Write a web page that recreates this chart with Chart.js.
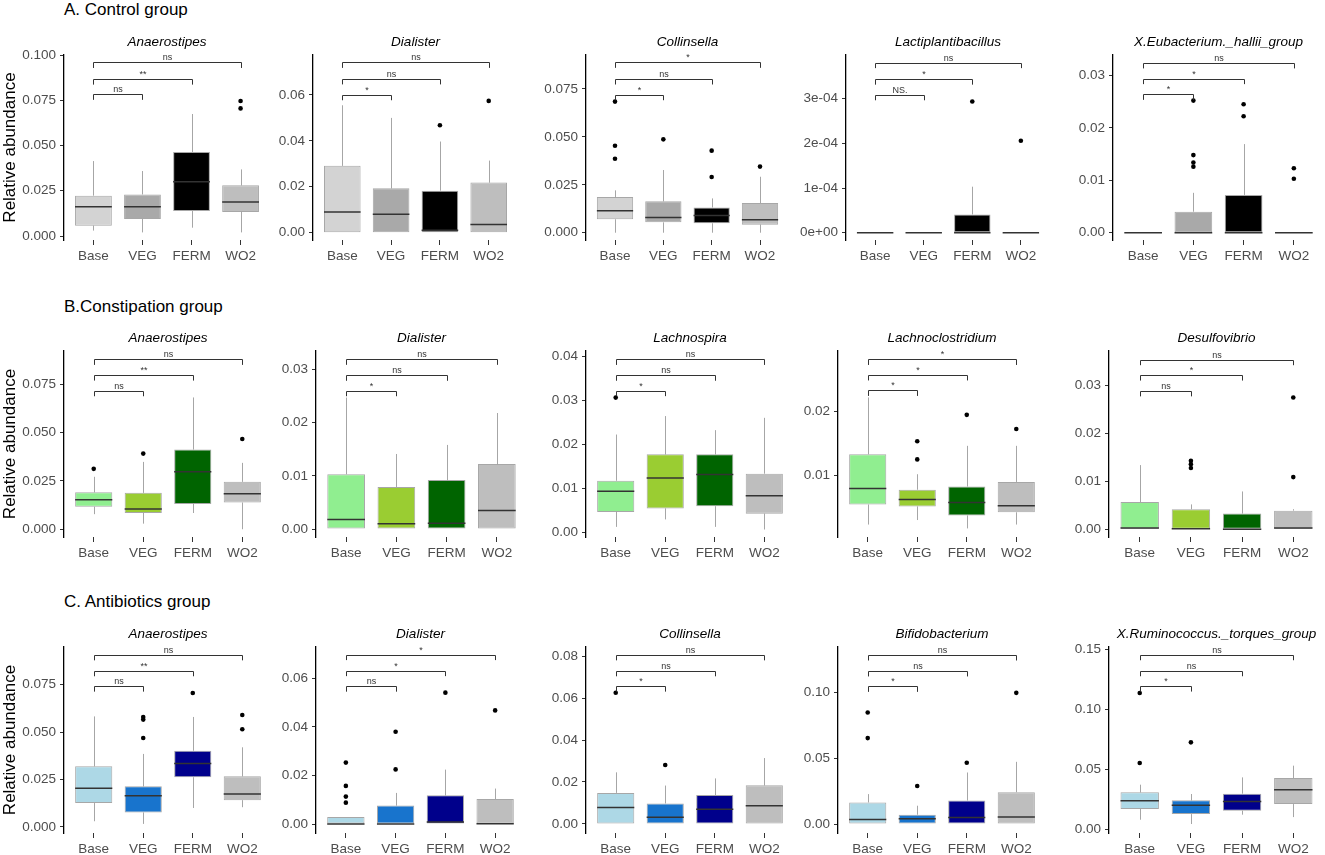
<!DOCTYPE html>
<html>
<head>
<meta charset="utf-8">
<script src="https://cdn.jsdelivr.net/npm/chart.js@4.4.1/dist/chart.umd.min.js"></script>
<style>
  body { margin: 0; background: #fff; width: 1325px; height: 855px; overflow: hidden; position: relative;
         font-family: "Liberation Sans", Arial, sans-serif; }
  canvas { position: absolute; }
  .rowtitle { position: absolute; font-size: 17px; line-height: 20px; color: #000; white-space: nowrap; }
</style>
</head>
<body>
<script>
// ---- data ----
const groups = ['Base', 'VEG', 'FERM', 'WO2'];

const genusA = ['Anaerostipes', 'Dialister', 'Collinsella', 'Lactiplantibacillus', 'X.Eubacterium._hallii_group'];
const genusB = ['Anaerostipes', 'Dialister', 'Lachnospira', 'Lachnoclostridium', 'Desulfovibrio'];
const genusC = ['Anaerostipes', 'Dialister', 'Collinsella', 'Bifidobacterium', 'X.Ruminococcus._torques_group'];

const colorsA = ['#d3d3d3', '#a9a9a9', '#000000', '#bebebe'];
const colorsB = ['#90ee90', '#9acd32', '#006400', '#bebebe'];
const colorsC = ['#add8e6', '#1874cd', '#00008b', '#bebebe'];

// one row per panel, values in order Base, VEG, FERM, WO2
const lowA  = [[0.003, 0.002, 0.0046, 0.002], [0, 0, 0, 0], [0, 0, 0, 0], [0, 0, 0, 0], [0, 0, 0, 0]];
const q1A   = [[0.0057, 0.0094, 0.0138, 0.0133], [0, 0, 0, 0], [0.007, 0.0054, 0.0049, 0.0042], [0, 0, 0, 0], [0, 0, 0, 0]];
const medA  = [[0.0162, 0.0162, 0.03, 0.0188], [0.009, 0.008, 0.001, 0.0036], [0.0115, 0.008, 0.009, 0.0068], [0, 0, 0, 0], [0, 0, 0, 0]];
const q3A   = [[0.0223, 0.023, 0.0464, 0.028], [0.0291, 0.0193, 0.0183, 0.0218], [0.0186, 0.0164, 0.0132, 0.0155], [0, 0, 4.1e-5, 0], [0, 0.004, 0.0072, 0]];
const highA = [[0.0414, 0.0359, 0.0674, 0.0368], [0.0555, 0.05, 0.0397, 0.0314], [0.0221, 0.0327, 0.0179, 0.0292], [0, 0, 1.03e-4, 0], [0, 0.0076, 0.0169, 0]];
const outA  = [[[], [], [], [0.0746, 0.0705]],
               [[], [], [0.0468], [0.0574]],
               [[0.0684, 0.0454, 0.0386], [0.0487], [0.0428, 0.0291], [0.0345]],
               [[], [], [2.94e-4], [2.06e-4]],
               [[], [0.0252, 0.0148, 0.0134, 0.0126], [0.0245, 0.0222], [0.0123, 0.0103]]];

const lowB  = [[0.0078, 0.0029, 0.0084, 0], [0, 0, 0, 0], [0.0013, 0.003, 0.0013, 0.0007], [0.0024, 0.0031, 0.0018, 0.0024], [0, 0, 0, 0]];
const q1B   = [[0.0116, 0.0084, 0.0131, 0.0138], [0, 0, 0, 0], [0.0047, 0.0055, 0.006, 0.0043], [0.0055, 0.0052, 0.0038, 0.0043], [0, 0, 0, 0]];
const medB  = [[0.0153, 0.0105, 0.0297, 0.0184], [0.0018, 0.001, 0.0011, 0.0035], [0.0094, 0.0124, 0.0132, 0.0084], [0.008, 0.0063, 0.0058, 0.0053], [0.0003, 0.0001, 0, 0.0003]];
const q3B   = [[0.0191, 0.0188, 0.0412, 0.0245], [0.0103, 0.0079, 0.0092, 0.0122], [0.0118, 0.0178, 0.0178, 0.0134], [0.0133, 0.0078, 0.0083, 0.009], [0.0057, 0.0042, 0.0033, 0.0039]];
const highB = [[0.0271, 0.0348, 0.0681, 0.0343], [0.0247, 0.0141, 0.0158, 0.0218], [0.0223, 0.0265, 0.0233, 0.0261], [0.0221, 0.0102, 0.0146, 0.0146], [0.0134, 0.0052, 0.0079, 0.0042]];
const outB  = [[[0.0312], [0.0391], [], [0.0466]],
               [[], [], [], []],
               [[0.0307], [], [], []],
               [[], [0.0153, 0.0125], [0.0194], [0.0172]],
               [[], [0.0143, 0.0136, 0.0128], [], [0.0275, 0.0109]]];

const lowC  = [[0.003, 0.0016, 0.01, 0.0104], [0, 0, 0, 0], [0, 0, 0, 0], [0, 0, 0, 0], [0.0078, 0.0042, 0.012, 0.01]];
const q1C   = [[0.0126, 0.0076, 0.0262, 0.0141], [0, 0, 0, 0], [0, 0, 0, 0], [0, 0, 0, 0], [0.0167, 0.0125, 0.0153, 0.0209]];
const medC  = [[0.0204, 0.0165, 0.0334, 0.0174], [0, 0, 0.0008, 0.0001], [0.0079, 0.0032, 0.007, 0.0087], [0.0035, 0.004, 0.005, 0.0053], [0.0237, 0.0198, 0.0231, 0.0329]];
const q3C   = [[0.032, 0.0214, 0.0402, 0.0267], [0.0029, 0.0076, 0.0118, 0.0103], [0.0148, 0.0098, 0.0138, 0.0184], [0.0164, 0.0071, 0.0179, 0.0242], [0.0307, 0.024, 0.0296, 0.0427]];
const highC = [[0.0583, 0.0385, 0.058, 0.042], [0.0029, 0.0128, 0.0224, 0.0146], [0.0246, 0.0183, 0.0217, 0.0314], [0.0227, 0.0139, 0.0391, 0.0472], [0.0371, 0.0293, 0.0432, 0.053]];
const outC  = [[[], [0.058, 0.0566, 0.0469], [0.0706], [0.059, 0.0515]],
               [[0.0253, 0.0157, 0.0113, 0.0088], [0.038, 0.0225], [0.0541], [0.0468]],
               [[0.0625], [0.0281], [], []],
               [[0.0846, 0.0652], [0.0288], [0.0465], [0.0995]],
               [[0.1137, 0.0552], [0.0725], [], []]];

// y axis ranges, ticks and tick labels per panel
const rangeA = [[-0.0022, 0.1], [-0.0032, 0.0774], [-0.0038, 0.0927], [-1.64e-5, 3.98e-4], [-0.0014, 0.0339]];
const rangeB = [[-0.004, 0.0921], [-0.0015, 0.03345], [-0.001, 0.0413], [0.00047, 0.0293], [-0.0016, 0.0372]];
const rangeC = [[-0.0032, 0.0949], [-0.0037, 0.0729], [-0.0043, 0.0843], [-0.0068, 0.1343], [-0.0033, 0.1522]];

const ticksA = [[0, 0.025, 0.05, 0.075, 0.1], [0, 0.02, 0.04, 0.06], [0, 0.025, 0.05, 0.075], [0, 1e-4, 2e-4, 3e-4], [0, 0.01, 0.02, 0.03]];
const ticksB = [[0, 0.025, 0.05, 0.075], [0, 0.01, 0.02, 0.03], [0, 0.01, 0.02, 0.03, 0.04], [0.01, 0.02], [0, 0.01, 0.02, 0.03]];
const ticksC = [[0, 0.025, 0.05, 0.075], [0, 0.02, 0.04, 0.06], [0, 0.02, 0.04, 0.06, 0.08], [0, 0.05, 0.1], [0, 0.05, 0.1, 0.15]];

const tickLabA = [['0.000', '0.025', '0.050', '0.075', '0.100'], ['0.00', '0.02', '0.04', '0.06'], ['0.000', '0.025', '0.050', '0.075'], ['0e+00', '1e-04', '2e-04', '3e-04'], ['0.00', '0.01', '0.02', '0.03']];
const tickLabB = [['0.000', '0.025', '0.050', '0.075'], ['0.00', '0.01', '0.02', '0.03'], ['0.00', '0.01', '0.02', '0.03', '0.04'], ['0.01', '0.02'], ['0.00', '0.01', '0.02', '0.03']];
const tickLabC = [['0.000', '0.025', '0.050', '0.075'], ['0.00', '0.02', '0.04', '0.06'], ['0.00', '0.02', '0.04', '0.06', '0.08'], ['0.00', '0.05', '0.10'], ['0.00', '0.05', '0.10', '0.15']];

// significance brackets: Base-VEG, Base-FERM, Base-WO2
const brkA = [[0.0783, 0.0867, 0.0959], [0.0601, 0.067, 0.0742], [0.072, 0.0802, 0.0889], [3.09e-4, 3.44e-4, 3.81e-4], [0.0264, 0.0294, 0.0324]];
const brkB = [[0.0716, 0.0797, 0.0878], [0.026, 0.0289, 0.0319], [0.0323, 0.0358, 0.0394], [0.0232, 0.0256, 0.028], [0.0289, 0.0322, 0.0354]];
const brkC = [[0.0743, 0.0824, 0.0908], [0.0568, 0.0632, 0.0698], [0.0657, 0.073, 0.0806], [0.1045, 0.1162, 0.1283], [0.1196, 0.1324, 0.1458]];
const sigA = [['ns', '**', 'ns'], ['*', 'ns', 'ns'], ['*', 'ns', '*'], ['NS.', '*', 'ns'], ['*', '*', 'ns']];
const sigB = [['ns', '**', 'ns'], ['*', 'ns', 'ns'], ['*', 'ns', 'ns'], ['*', '*', '*'], ['ns', '*', 'ns']];
const sigC = [['ns', '**', 'ns'], ['ns', '*', '*'], ['*', 'ns', 'ns'], ['*', 'ns', 'ns'], ['*', 'ns', 'ns']];

// ---- layout ----
const FONT = '"Liberation Sans", Arial, sans-serif';
Chart.defaults.font.family = FONT;

const rows = [
  { title: 'A. Control group', genus: genusA, colors: colorsA, low: lowA, q1: q1A, med: medA, q3: q3A, high: highA, out: outA,
    range: rangeA, ticks: ticksA, tickLab: tickLabA, brk: brkA, sig: sigA },
  { title: 'B.Constipation group', genus: genusB, colors: colorsB, low: lowB, q1: q1B, med: medB, q3: q3B, high: highB, out: outB,
    range: rangeB, ticks: ticksB, tickLab: tickLabB, brk: brkB, sig: sigB },
  { title: 'C. Antibiotics group', genus: genusC, colors: colorsC, low: lowC, q1: q1C, med: medC, q3: q3C, high: highC, out: outC,
    range: rangeC, ticks: ticksC, tickLab: tickLabC, brk: brkC, sig: sigC }
];

const plotTop = [55, 351, 647];
const plotH = [185, 186, 186];
const titleY = [10, 307, 602];
const axisX = [[64, 313, 586, 846, 1113], [64, 316, 586, 838, 1109], [64, 316, 586, 838, 1109]];
const rightX = [[272, 520, 791, 1052, 1326], [274, 527, 796, 1048, 1326], [274, 527, 796, 1048, 1326]];

function makePanel(cv, r, pi, lw) {
  const low = r.low[pi], q1 = r.q1[pi], med = r.med[pi], q3 = r.q3[pi], high = r.high[pi];
  const yr = r.range[pi];
  const boxes = groups.map((g, i) => ({ x: i + 1, y: [q1[i], q3[i]] }));
  const pts = [];
  r.out[pi].forEach((arr, i) => arr.forEach(v => pts.push({ x: i + 1, y: v })));

  const boxParts = {
    id: 'boxParts',
    beforeDatasetsDraw(chart) {
      const { ctx, scales: { x, y } } = chart;
      ctx.save();
      ctx.strokeStyle = '#a6a6a6';
      ctx.lineWidth = 1;
      groups.forEach((g, i) => {
        const px = Math.round(x.getPixelForValue(i + 1)) + 0.5;
        ctx.beginPath();
        ctx.moveTo(px, y.getPixelForValue(high[i]));
        ctx.lineTo(px, y.getPixelForValue(q3[i]));
        ctx.moveTo(px, y.getPixelForValue(q1[i]));
        ctx.lineTo(px, y.getPixelForValue(low[i]));
        ctx.stroke();
      });
      ctx.restore();
    },
    afterDatasetDraw(chart, args) {
      if (args.index !== 0) return;
      const { ctx, scales: { y } } = chart;
      const meta = chart.getDatasetMeta(0);
      ctx.save();
      ctx.strokeStyle = '#333333';
      ctx.lineWidth = 1.5;
      meta.data.forEach((bar, i) => {
        const py = y.getPixelForValue(med[i]);
        ctx.beginPath();
        ctx.moveTo(bar.x - bar.width / 2, py);
        ctx.lineTo(bar.x + bar.width / 2, py);
        ctx.stroke();
      });
      ctx.restore();
    },
    afterDraw(chart) {
      const { ctx, chartArea, scales: { x, y } } = chart;
      ctx.save();
      // strip title
      ctx.fillStyle = '#000';
      ctx.font = 'italic 13.5px ' + FONT;
      ctx.textAlign = 'center';
      ctx.textBaseline = 'middle';
      ctx.fillText(r.genus[pi], (chartArea.left + chartArea.right) / 2, chartArea.top - 13);
      // significance brackets
      const tip = 0.03 * (yr[1] - yr[0]);
      ctx.strokeStyle = '#333';
      ctx.fillStyle = '#333';
      ctx.lineWidth = 1;
      ctx.font = '9px ' + FONT;
      ctx.textBaseline = 'bottom';
      r.brk[pi].forEach((b, k) => {
        const x0 = Math.round(x.getPixelForValue(1)) + 0.5;
        const x1 = Math.round(x.getPixelForValue(k + 2)) + 0.5;
        const yy = Math.round(y.getPixelForValue(b)) + 0.5;
        const yt = y.getPixelForValue(b - tip);
        ctx.beginPath();
        ctx.moveTo(x0, yt);
        ctx.lineTo(x0, yy);
        ctx.lineTo(x1, yy);
        ctx.lineTo(x1, yt);
        ctx.stroke();
        ctx.fillText(r.sig[pi][k], (x0 + x1) / 2, yy - 0.5);
      });
      ctx.restore();
    }
  };

  new Chart(cv.getContext('2d'), {
    type: 'bar',
    data: {
      datasets: [
        { type: 'bar', data: boxes, backgroundColor: r.colors, borderColor: 'rgba(60,60,60,0.45)', borderWidth: 1,
          borderSkipped: false, barPercentage: 0.75, categoryPercentage: 1, order: 1 },
        { type: 'scatter', data: pts, pointRadius: 2.3, pointBackgroundColor: '#000', pointBorderWidth: 0, order: 0 }
      ]
    },
    options: {
      responsive: false,
      animation: false,
      events: [],
      layout: { padding: { top: 25, right: 2, left: 0, bottom: 0 } },
      plugins: { legend: { display: false }, tooltip: { enabled: false }, title: { display: false } },
      scales: {
        x: {
          type: 'linear', min: 0.4, max: 4.6, offset: false,
          afterBuildTicks: s => { s.ticks = groups.map((g, i) => ({ value: i + 1 })); },
          afterFit: s => { s.height = 30; },
          ticks: { autoSkip: false, maxRotation: 0, padding: 3, color: '#4d4d4d', font: { size: 13.5 },
                   callback: v => groups[v - 1] },
          grid: { display: true, drawOnChartArea: false, drawTicks: true, tickLength: 5, color: '#333', offset: false },
          border: { display: false }
        },
        y: {
          type: 'linear', min: yr[0], max: yr[1],
          afterBuildTicks: s => { s.ticks = r.ticks[pi].map(v => ({ value: v })); },
          afterFit: s => { s.width = lw; },
          ticks: { color: '#4d4d4d', padding: 4, font: { size: 13.5 }, callback: (v, i) => r.tickLab[pi][i] },
          grid: { drawOnChartArea: false, tickLength: 4, color: '#333' },
          border: { display: true, color: '#000', width: 1.3 },
          title: { display: pi === 0, text: 'Relative abundance', color: '#000', font: { size: 17 },
                   padding: { top: 0, bottom: 0 } }
        }
      }
    },
    plugins: [boxParts]
  });
}

rows.forEach((r, ri) => {
  const t = document.createElement('div');
  t.className = 'rowtitle';
  t.textContent = r.title;
  t.style.left = '64px';
  t.style.top = (titleY[ri] - 10) + 'px';
  document.body.appendChild(t);

  r.genus.forEach((g, pi) => {
    const lw = pi === 0 ? 64 : 50;
    const w = lw + (rightX[ri][pi] - axisX[ri][pi]) + 2;
    const h = 25 + plotH[ri] + 30;
    const cv = document.createElement('canvas');
    cv.width = w;
    cv.height = h;
    cv.style.left = (axisX[ri][pi] - lw) + 'px';
    cv.style.top = (plotTop[ri] - 25) + 'px';
    cv.style.width = w + 'px';
    cv.style.height = h + 'px';
    document.body.appendChild(cv);
    makePanel(cv, r, pi, lw);
  });
});
</script>
</body>
</html>
